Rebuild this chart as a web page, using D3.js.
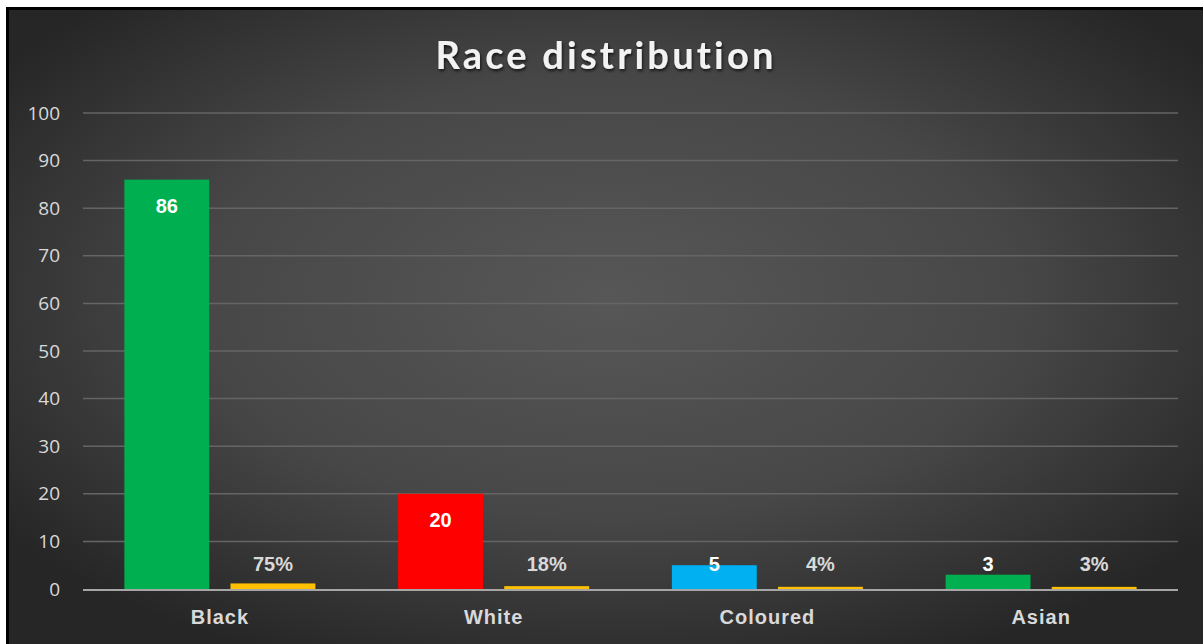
<!DOCTYPE html>
<html>
<head>
<meta charset="utf-8">
<script src="https://cdn.jsdelivr.net/npm/d3@7"></script>
<style>
  html, body { margin: 0; padding: 0; background: #ffffff; }
  svg { display: block; }
</style>
</head>
<body>
<svg id="chart" width="1203" height="644"></svg>
<script>
// Race distribution: headcount per group with its share of the total
const categories = ["Black", "White", "Coloured", "Asian"];
const counts = [86, 20, 5, 3];
const shares = [0.75, 0.18, 0.04, 0.03];
const countColors = ["#00b050", "#ff0000", "#00b0f0", "#00b050"];
const shareColor = "#ffc000";
const yTicks = [0, 10, 20, 30, 40, 50, 60, 70, 80, 90, 100];
const titleText = "Race distribution";

const W = 1203, H = 644;
const svg = d3.select("#chart");
const defs = svg.append("defs");

// dark radial backdrop, lighter towards the centre
const grad = defs.append("radialGradient")
  .attr("id", "bg").attr("cx", "50%").attr("cy", "45%").attr("r", "62%");
grad.append("stop").attr("offset", "0%").attr("stop-color", "#575757");
grad.append("stop").attr("offset", "55%").attr("stop-color", "#474747");
grad.append("stop").attr("offset", "100%").attr("stop-color", "#262626");

const shadow = defs.append("filter").attr("id", "shadow")
  .attr("x", "-10%").attr("y", "-30%").attr("width", "120%").attr("height", "160%");
shadow.append("feDropShadow").attr("dx", 1).attr("dy", 2).attr("stdDeviation", 1.5)
  .attr("flood-color", "#000").attr("flood-opacity", 0.7);

svg.append("rect")
  .attr("x", 7.5).attr("y", 8.5).attr("width", W).attr("height", H)
  .attr("fill", "url(#bg)").attr("stroke", "#000").attr("stroke-width", 3);

// scales
const x = d3.scaleBand().domain(categories).range([83, 1178]).padding(0);
const groupW = 191;
const x1 = d3.scaleBand().domain(["count", "share"])
  .range([(x.bandwidth() - groupW) / 2, (x.bandwidth() + groupW) / 2])
  .paddingInner(0.2).paddingOuter(0);
const y = d3.scaleLinear().domain([0, 100]).range([589, 113]);

// gridlines
svg.append("g").selectAll("line").data(yTicks.filter(t => t > 0)).join("line")
  .attr("x1", 83).attr("x2", 1178)
  .attr("y1", d => y(d)).attr("y2", d => y(d))
  .attr("stroke", "#656565").attr("stroke-width", 1.5);

// y axis labels
const yAxis = svg.append("g").attr("transform", "translate(60,0)")
  .call(d3.axisLeft(y).tickValues(yTicks).tickSize(0).tickPadding(0));
yAxis.select(".domain").remove();
yAxis.selectAll("text")
  .attr("fill", "#d9d9d9")
  .style("font-family", "'Open Sans', 'DejaVu Sans', sans-serif")
  .style("font-size", "19px");

const rows = categories.map((c, i) => ({ cat: c, count: counts[i], share: shares[i], color: countColors[i] }));

// count bars
svg.append("g").selectAll("rect").data(rows).join("rect")
  .attr("x", d => x(d.cat) + x1("count"))
  .attr("width", x1.bandwidth())
  .attr("y", d => y(d.count))
  .attr("height", d => y(0) - y(d.count))
  .attr("fill", d => d.color);

// share bars (plotted on the same axis, so they sit as thin strips on the baseline)
svg.append("g").selectAll("rect").data(rows).join("rect")
  .attr("x", d => x(d.cat) + x1("share"))
  .attr("width", x1.bandwidth())
  .attr("y", d => y(d.share) - 2)
  .attr("height", d => y(0) - y(d.share) + 2)
  .attr("fill", shareColor);

// baseline
svg.append("line")
  .attr("x1", 83).attr("x2", 1178).attr("y1", y(0) + 1).attr("y2", y(0) + 1)
  .attr("stroke", "#a6a6a6").attr("stroke-width", 2);

// value labels
const labelFont = "Arial, 'Liberation Sans', sans-serif";
svg.append("g").selectAll("text").data(rows).join("text")
  .attr("x", d => x(d.cat) + x1("count") + x1.bandwidth() / 2)
  .attr("y", d => Math.min(y(d.count) + 26, y(0) - 25))
  .attr("text-anchor", "middle").attr("dominant-baseline", "central")
  .attr("fill", "#ffffff")
  .style("font-family", labelFont).style("font-weight", "bold").style("font-size", "20px")
  .text(d => d.count);

svg.append("g").selectAll("text").data(rows).join("text")
  .attr("x", d => x(d.cat) + x1("share") + x1.bandwidth() / 2)
  .attr("y", d => Math.min(y(d.share) + 26, y(0) - 25))
  .attr("text-anchor", "middle").attr("dominant-baseline", "central")
  .attr("fill", "#d9d9d9")
  .style("font-family", labelFont).style("font-weight", "bold").style("font-size", "20px")
  .text(d => d3.format(".0%")(d.share));

// category labels
svg.append("g").selectAll("text").data(categories).join("text")
  .attr("x", d => x(d) + x.bandwidth() / 2)
  .attr("y", 617)
  .attr("text-anchor", "middle").attr("dominant-baseline", "central")
  .attr("fill", "#d9d9d9")
  .style("font-family", labelFont).style("font-weight", "bold").style("font-size", "20px")
  .style("letter-spacing", "1px")
  .text(d => d);

// title
svg.append("text")
  .attr("x", 606).attr("y", 69)
  .attr("text-anchor", "middle")
  .attr("fill", "#f2f2f2")
  .attr("filter", "url(#shadow)")
  .style("font-family", "Lato, 'Open Sans', sans-serif")
  .style("font-weight", "bold").style("font-size", "38px")
  .style("letter-spacing", "3.2px")
  .text(titleText);
</script>
</body>
</html>
